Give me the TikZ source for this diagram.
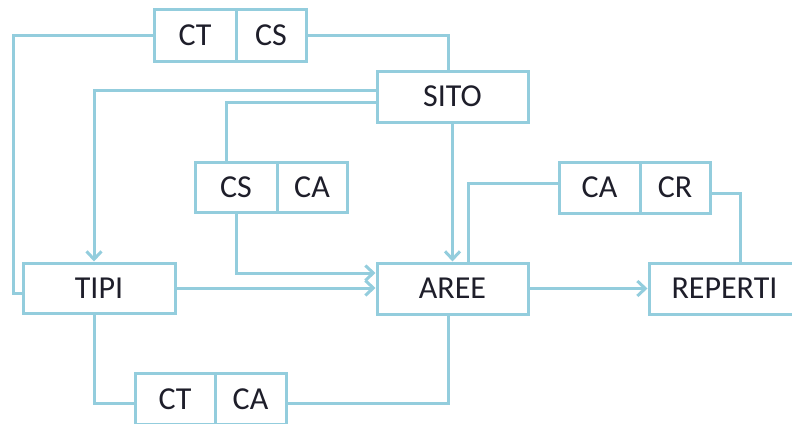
\documentclass[tikz,border=0pt]{standalone}
\usepackage{fontspec}
\setmainfont{Carlito}
\usetikzlibrary{arrows.meta}
\definecolor{linkblue}{HTML}{93CDDD}
\definecolor{inkgrey}{HTML}{1E1E2A}
\tikzset{box/.style={draw=linkblue, line width=3pt, rectangle, minimum height=51pt, inner sep=0pt, text=inkgrey, font=\fontsize{32}{36}\selectfont}, link/.style={draw=linkblue, line width=3pt}, arrow/.style={link, -{Straight Barb[length=8pt, width=15pt]}}}

\begin{document}
\begin{tikzpicture}[x=1pt, y=-1pt]
      \useasboundingbox (0,0) rectangle (792,423);
      \clip (0,0) rectangle (792,423);
      % entities
      \node [box, minimum width=151pt] (sito) at (452.5,96.5) {SITO};
      \node [box, minimum width=152pt, minimum height=50pt] (tipi) at (99,288) {TIPI};
      \node [box, minimum width=151pt] (aree) at (452.5,288.5) {AREE};
      \node [box, minimum width=151pt] (reperti) at (724.5,288.5) {REPERTI};
      % keys
      \node [box, minimum width=82pt, minimum height=52pt] (ctcs-ct) at (195,35) {CT};
      \node [box, minimum width=70pt, minimum height=52pt] (ctcs-cs) at (271,35) {CS};
      \node [box, minimum width=82pt, minimum height=50pt] (csca-cs) at (236,187) {CS};
      \node [box, minimum width=70pt, minimum height=50pt] (csca-ca) at (312,187) {CA};
      \node [box, minimum width=81pt] (cacr-ca) at (599.5,187.5) {CA};
      \node [box, minimum width=70pt] (cacr-cr) at (675,187.5) {CR};
      \node [box, minimum width=80pt] (ctca-ct) at (175,399) {CT};
      \node [box, minimum width=71pt] (ctca-ca) at (250.5,399) {CA};
      % links
      \draw [link] (ctcs-ct.west) -| (13,293) -- ([yshift=-5pt]tipi.west);
      \draw [link] (ctcs-cs.east) -| ([xshift=-4.5pt]sito.north);
      \draw [arrow] ([yshift=6.5pt]sito.west) -| ([xshift=-5pt]tipi.north);
      \draw [link] ([yshift=-5.5pt]sito.west) -| ([xshift=-10pt]csca-cs.north);
      \draw [arrow] (sito.south) -- (aree.north);
      \draw [arrow] (csca-cs.south) |- ([yshift=15.5pt]aree.west);
      \draw [arrow] (tipi.east) -- (tipi.east -| aree.west);
      \draw [arrow] (aree.east) -- (reperti.west);
      \draw [link] ([yshift=4.5pt]cacr-ca.west) -| ([xshift=15.5pt]aree.north);
      \draw [link] ([yshift=-5.5pt]cacr-cr.east) -| ([xshift=15.5pt]reperti.north);
      \draw [link] ([xshift=-5pt]tipi.south) |- ([yshift=-4pt]ctca-ct.west);
      \draw [link] ([yshift=-4pt]ctca-ca.east) -| ([xshift=-4.5pt]aree.south);
\end{tikzpicture}
\end{document}
